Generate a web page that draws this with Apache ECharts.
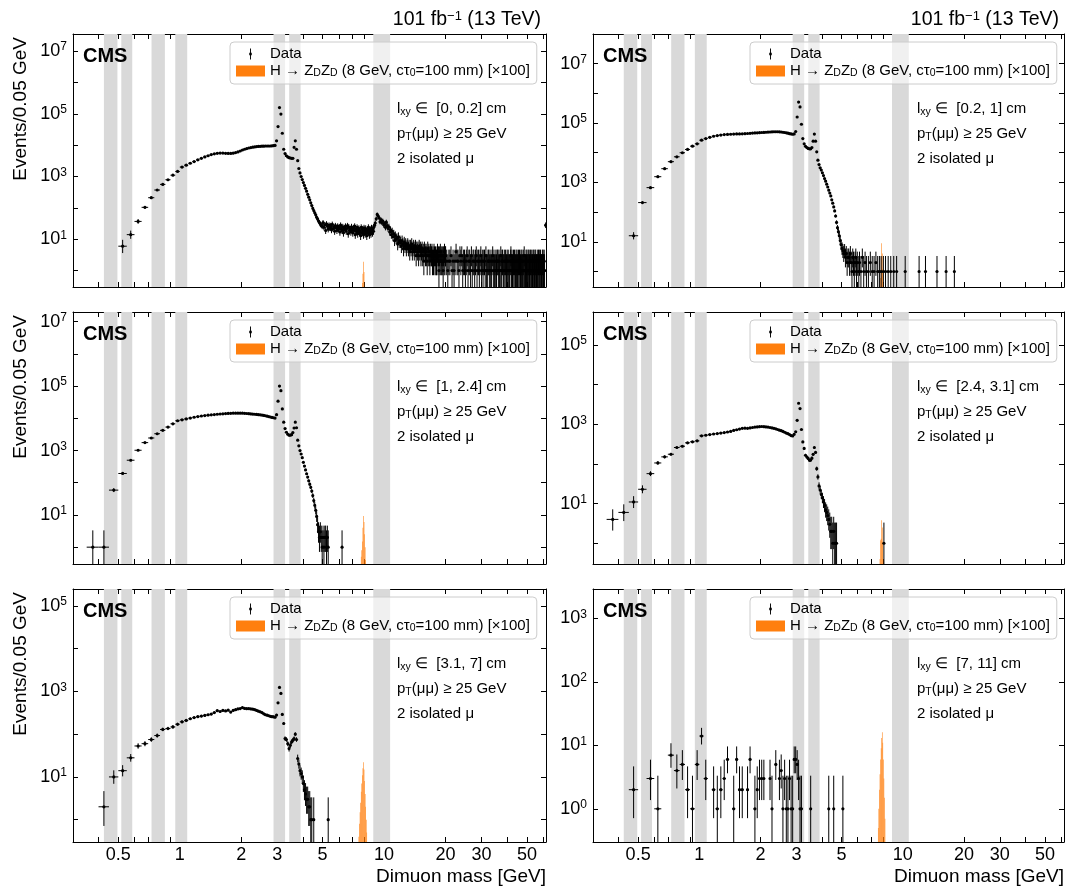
<!DOCTYPE html>
<html><head><meta charset="utf-8">
<script src="https://cdn.jsdelivr.net/npm/echarts@6.0.0/dist/echarts.min.js"></script>
<style>html,body{margin:0;padding:0;background:#fff}#c{width:1067px;height:888px}</style>
</head><body><div id="c"></div>
<script>
// ---------------- DATA ----------------
const massBins = [
0.375,0.425,0.475,0.525,0.575,0.625,0.675,0.725,0.775,0.825,
0.875,0.925,0.975,1.025,1.075,1.125,1.175,1.225,1.275,1.325,
1.375,1.425,1.475,1.525,1.575,1.625,1.675,1.725,1.775,1.825,
1.875,1.925,1.975,2.025,2.075,2.125,2.175,2.225,2.275,2.325,
2.375,2.425,2.475,2.525,2.575,2.625,2.675,2.725,2.775,2.825,
2.875,2.925,2.975,3.025,3.075,3.125,3.175,3.225,3.275,3.325,
3.375,3.425,3.475,3.525,3.575,3.625,3.675,3.725,3.775,3.825,
3.875,3.925,3.975,4.025,4.075,4.125,4.175,4.225,4.275,4.325,
4.375,4.425,4.475,4.525,4.575,4.625,4.675,4.725,4.775,4.825,
4.875,4.925,4.975];

const p1Events = [
null,null,null,6,14,37,104,211,371,561,
789,1100,1450,2000,2300,2650,3000,3400,3800,4200,
4600,5000,5300,5500,5600,5600,5500,5450,5450,5550,
5800,6100,6500,7000,7400,7800,8100,8400,8600,8800,
9000,9100,9200,9300,9300,9400,9400,9400,9400,9500,
9600,9800,13700,39000,158000,98000,24000,7400,5400,4600,
4200,4000,3900,3800,3800,8500,13700,7400,3200,1800,
1300,1000,800,640,520,420,340,270,220,180,
145,118,97,82,70,60,50,44,38,34,
30,28,26];
const p1TailMass = [
5.025,5.075,5.125,5.175,5.225,5.275,5.325,5.375,5.425,5.475,
5.525,5.575,5.625,5.675,5.725,5.775,5.825,5.875,5.925,5.975,
6.025,6.075,6.125,6.175,6.225,6.275,6.325,6.375,6.425,6.475,
6.525,6.575,6.625,6.675,6.725,6.775,6.825,6.875,6.925,6.975,
7.025,7.075,7.125,7.175,7.225,7.275,7.325,7.375,7.425,7.475,
7.525,7.575,7.625,7.675,7.725,7.775,7.825,7.875,7.925,7.975,
8.025,8.075,8.125,8.175,8.225,8.275,8.325,8.375,8.425,8.475,
8.525,8.575,8.625,8.675,8.725,8.775,8.825,8.875,8.925,8.975,
9.05,9.15,9.25,9.35,9.45,9.55,9.65,9.75,9.85,9.95,
10.05,10.15,10.25,10.35,10.45,10.55,10.65,10.75,10.85,10.95,
11.05,11.15,11.25,11.35,11.45,11.55,11.65,11.75,11.85,11.95,
12.05,12.15,12.25,12.35,12.45,12.55,12.65,12.75,12.85,12.95,
13.05,13.15,13.25,13.35,13.45,13.55,13.65,13.75,13.85,13.95,
14.05,14.15,14.25,14.35,14.45,14.55,14.65,14.75,14.85,14.95,
15.05,15.15,15.25,15.35,15.45,15.55,15.65,15.75,15.85,15.95,
16.05,16.15,16.25,16.35,16.45,16.55,16.65,16.75,16.85,16.95,
17.05,17.15,17.25,17.35,17.45,17.55,17.65,17.75,17.85,17.95,
18.05,18.15,18.25,18.35,18.45,18.55,18.65,18.75,18.85,18.95,
19.05,19.15,19.25,19.35,19.45,19.55,19.65,19.75,19.85,19.95,
20,20.25,20.5,20.75, 21,21.25,21.5,21.75, 22,22.25,22.5,22.75, 23,23.25,23.5,23.75,
24,24.25,24.5,24.75, 25,25.25,25.5,25.75, 26,26.25,26.5,26.75, 27,27.25,27.5,27.75,
28,28.25,28.5,28.75, 29,29.25,29.5,29.75, 30,30.25,30.5,30.75, 31,31.25,31.5,31.75,
32,32.25,32.5,32.75, 33,33.25,33.5,33.75, 34,34.25,34.5,34.75, 35,35.25,35.5,35.75,
36,36.25,36.5,36.75, 37,37.25,37.5,37.75, 38,38.25,38.5,38.75, 39,39.25,39.5,39.75,
40,40.25,40.5,40.75, 41,41.25,41.5,41.75, 42,42.25,42.5,42.75, 43,43.25,43.5,43.75,
44,44.25,44.5,44.75, 45,45.25,45.5,45.75, 46,46.25,46.5,46.75, 47,47.25,47.5,47.75,
48,48.25,48.5,48.75, 49,49.25,49.5,49.75, 50,50.25,50.5,50.75, 51,51.25,51.5,51.75,
52,52.25,52.5,52.75, 53,53.25,53.5,53.75, 54,54.25,54.5,54.75, 55,55.25,55.5,55.75,
56,56.25,56.5,56.75, 57,57.25,57.5,57.75, 58,58.25,58.5,58.75, 59,59.25,59.5,59.75,
60,60.25,60.5,60.75, 61,
61.75];
const p1TailCounts = [
34,24,29,19,31,26,21,28,23,27,
20,30,22,25,18,27,23,19,26,21,
24,17,28,21,19,25,16,23,20,26,
18,22,27,15,24,19,21,17,25,20,
16,23,19,26,14,21,18,24,15,20,
22,17,19,13,24,16,21,18,14,23,
19,15,22,17,13,20,16,24,18,14,
21,17,15,23,19,16,22,18,25,28,
33,45,62,55,48,36,42,34,38,29,
31,24,35,27,22,25,17,20,14,18,
12,15,9,13,10,11,7,12,8,9,
8,6,9,7,5,8,6,7,5,6,
7,5,6,4,6,5,7,4,5,6,
4,5,6,3,5,4,5,3,6,4,
5,3,4,5,3,4,2,5,4,3,
4,3,2,5,3,4,3,2,4,3,
3,4,2,3,2,4,3,2,3,2,
2,3,4,2,3,1,3,2,4,2,
3,2,2,3,1,3,2,4,2,3,
3,2,1,2, 2,3,1,2, 1,2,4,2, 2,1,3,2,
3,1,2,2, 1,2,3,1, 2,2,1,3, 1,2,2,1,
2,3,1,2, 2,1,2,3, 1,2,1,2, 2,1,3,1,
1,2,2,1, 2,1,1,2, 3,1,2,1, 1,2,1,2,
2,1,2,1, 1,3,1,2, 2,1,1,2, 1,2,1,1,
2,1,2,1, 1,1,2,3, 1,2,1,1, 2,1,2,1,
1,2,1,2, 1,1,2,1, 2,1,1,2, 1,2,1,1,
2,1,3,1, 1,1,2,1, 2,1,1,2, 1,2,1,1,
2,1,2,1, 1,1,2,1, 2,1,1,2, 1,2,1,1,
1,1,2,1, 2,1,1,2, 1,2,1,1, 1,1,2,1,
2,1,1,2, 1,
28];

const p2Events = [
null,null,16,209,668,1560,2900,5000,7300,10000,
12900,16700,20000,26500,30000,33000,36000,38000,39500,41000,
41500,42000,42500,43000,43000,43500,44000,44500,45000,46000,
46500,47000,47500,48000,48500,49000,49500,50000,50500,51000,
51000,51000,50500,50000,49000,48000,47000,45500,44000,43000,
42000,43000,52000,160000,510000,350000,91000,30000,20000,16500,
15000,14000,13500,13500,15000,24500,42500,24500,10700,5600,
4000,3100,2600,2100,1700,1350,1100,870,700,550,
440,350,260,200,150,110,74,45,30,22,
16,11,8];
const p2TailMass = [5.025,5.075,5.125,5.175,5.225,5.275,5.325,5.375,5.425,5.475,5.525,5.575,5.625,5.675,5.725,5.775,5.825,5.875,5.925,5.975,
6.075,6.125,6.225,6.325,6.425,6.525,6.625,6.775,6.925,7.075,7.225,7.375,7.525,7.675,7.825,8.025,8.225,8.475,8.725,9.025,9.325,
10.275,12.025,12.925,14.725,16.325,17.925];
const p2TailCounts = [6,5,4,5,3,4,2,3,3,2,4,2,1,3,2,1,2,3,1,2,
1,2,1,3,1,2,1,1,2,1,1,2,1,1,1,1,1,1,1,1,1,
1,1,1,1,1,1];

const p3Events = [
1,1,59,194,500,1020,1760,2450,3320,4230,
5350,6770,8400,9000,9600,10200,10800,11300,11800,12200,
12500,12800,13100,13400,13600,13800,14000,14200,14300,14400,
14500,14500,14500,14400,14300,14100,13900,13700,13500,13400,
13200,13000,12800,12600,12300,12000,11700,11300,11000,10700,
10400,10200,13000,34000,100000,72000,19600,7600,4800,3700,
3200,3000,3000,3100,3600,5000,7600,5100,2100,1400,
1000,780,600,430,330,250,190,150,115,90,
72,55,40,28,20,14,9,5,3,2,
3,2,1];
const p3TailMass = [5.025,5.075,5.125,5.175,5.225,5.275,5.325,6.225];
const p3TailCounts = [2,1,2,2,1,2,1,1];

const p4Events = [
4,6,11,23,57,106,151,176,260,280,
341,362,383,513,530,550,570,585,600,620,
640,660,700,730,760,790,800,790,810,830,
850,860,870,880,870,860,850,830,810,790,
770,740,710,690,660,630,600,580,550,520,
510,560,650,1260,3400,2500,740,360,246,166,
150,138,124,125,140,175,260,195,76,47,
28,22,17,14,11,9,7,6,5,4,
3,2,2,1,2,1,1,1,null,null,
null,null,null];
const p4TailMass = [8.075];
const p4TailCounts = [1];

const p5Events = [
null,2,10,14,28,53,60,75,93,129,
136,148,171,195,210,230,245,257,265,275,
285,296,320,355,340,360,350,365,330,360,
375,390,398,420,400,395,398,390,385,375,
360,345,333,320,300,285,278,270,262,257,
255,250,280,542,1240,900,290,178,79,75,
60,46,55,66,72,79,100,75,27,20,
14,12,10,7,5,4,3,3,2,2,
1,1,null,1,null,null,null,null,null,null,
null,null,null];
const p5TailMass = [5.325];
const p5TailCounts = [1];

const p6Events = [
null,null,2,null,3,1,null,7,4,5,
2,1,5,14,3,null,2,1,2,3,
6,null,1,6,2,2,null,2,6,null,
1,2,3,3,3,null,null,3,1,null,
5,null,3,4,1,3,1,1,3,1,
1,6,6,5,3,1,1,null,null,null,
null,null,null,1,null,null,null,null,null,null,
null,null,null,null,null,null,null,null,null,1,
null,null,null,null,1,null,null,null,null,null,
null,null,null];
const p6TailMass = [5.075];
const p6TailCounts = [1];

// signal (x100), 0.05 GeV bins
const sigMass = [7.525,7.575,7.625,7.675,7.725,7.775,7.825,7.875,7.925,7.975,8.025,8.075,8.125,8.175,8.225,8.275,8.325,8.375];
const p1Signal = [0,0,0,0,0,0.2,0.4,0.8,1.9,0.9,0.3,0,0,0,0,0,0,0];
const p2Signal = [0,0,0,0,0.2,0.6,3,9,4,1.2,0.4,0,0,0,0,0,0,0];
const p3Signal = [0,0,0,0,0.5,0.8,1.5,4,9.3,6,2.5,1,0.4,0,0,0,0,0];
const p4Signal = [0,0,0,0,0.4,1.2,1.3,3.8,2.5,1.1,0.4,0,0,0,0,0,0,0];
const p5Signal = [0.4,0.8,1.5,2.5,4.5,7,11,16,22,15,8,4,2,1,0.5,0,0,0];
const p6Signal = [0,0.5,1,2,3.5,6,9,13,16,11,6,3,1.5,0.7,0.3,0,0,0];

// masked mass windows (GeV)
const maskWindows = [[0.425,0.495],[0.517,0.585],[0.727,0.845],[0.95,1.087],[2.875,3.275],[3.43,3.9],[8.85,10.7]];

// axes ticks / labels
const xTickMasses = [0.4,0.5,0.6,0.7,0.8,0.9,1,2,3,4,5,6,7,8,9,10,20,30,40,50,60];
const xLabelMasses = [0.5,1,2,3,5,10,20,30,50];
const yTickExps = [[0,1,2,3,4,5,6,7],[0,1,2,3,4,5,6,7,8],[0,1,2,3,4,5,6,7],[0,1,2,3,4,5],[0,1,2,3,4,5],[0,1,2,3]];
const yLabelExps = [[1,3,5,7],[1,3,5,7],[1,3,5,7],[1,3,5],[1,3,5],[0,1,2,3]];
const lxyRanges = ['[0, 0.2]','[0.2, 1]','[1, 2.4]','[2.4, 3.1]','[3.1, 7]','[7, 11]'];

// ---------------- LAYOUT ----------------
const FONT = '"Liberation Sans", Arial, Helvetica, sans-serif';
const lg = Math.log10;
const binWidth = 0.05;
const xMin = 0.3, xMax = 62, yMin = 0.3;
const yMaxes = [3.5e7, 1e8, 2e7, 6.8e5, 2.5e5, 2.9e3];
const grids = [
  {left:73, top:34, width:473, height:253},
  {left:593, top:34, width:471, height:253},
  {left:73, top:312, width:473, height:252},
  {left:593, top:312, width:471, height:252},
  {left:73, top:589, width:473, height:253},
  {left:593, top:589, width:471, height:253}
];
const panels = [
  {ev:p1Events, tm:p1TailMass, tc:p1TailCounts, sig:p1Signal},
  {ev:p2Events, tm:p2TailMass, tc:p2TailCounts, sig:p2Signal},
  {ev:p3Events, tm:p3TailMass, tc:p3TailCounts, sig:p3Signal},
  {ev:p4Events, tm:p4TailMass, tc:p4TailCounts, sig:p4Signal},
  {ev:p5Events, tm:p5TailMass, tc:p5TailCounts, sig:p5Signal},
  {ev:p6Events, tm:p6TailMass, tc:p6TailCounts, sig:p6Signal}
];
const ORANGE = '#ff7f0e';
const SIGNAME = 'signal';

function gehrels(n) {
  const hi = n + 1 + Math.sqrt(n + 0.75);
  const lo = n * Math.pow(1 - 1 / (9 * n) - 1 / (3 * Math.sqrt(n)), 3);
  return [lo, hi];
}

const xAxes = [], yAxes = [], series = [], graphics = [], legends = [];
const axisLine = {show:true, onZero:false, lineStyle:{color:'#000', width:1}};

grids.forEach((g, i) => {
  xAxes.push({type:'log', logBase:10, gridIndex:i, min:xMin, max:xMax, show:false});
  yAxes.push({type:'log', logBase:10, gridIndex:i, min:yMin, max:yMaxes[i], show:false});
});
grids.forEach((g, i) => {
  const bottomRow = i >= 4;
  ['bottom','top'].forEach(pos => xAxes.push({
    type:'value', gridIndex:i, position:pos, min:lg(xMin), max:lg(xMax),
    axisLine:axisLine, splitLine:{show:false},
    axisTick:{show:true, inside:true, length:5, customValues:xTickMasses.map(lg), lineStyle:{color:'#000', width:1}},
    axisLabel:{show: pos === 'bottom' && bottomRow, customValues:xLabelMasses.map(lg),
      formatter: v => String(Number(Math.pow(10, v).toPrecision(2))),
      color:'#000', fontFamily:FONT, fontSize:18, lineHeight:18, margin:4}
  }));
  ['left','right'].forEach(pos => yAxes.push({
    type:'value', gridIndex:i, position:pos, min:lg(yMin), max:lg(yMaxes[i]),
    axisLine:axisLine, splitLine:{show:false},
    axisTick:{show:true, inside:true, length:5, customValues:yTickExps[i], lineStyle:{color:'#000', width:1}},
    axisLabel:{show: pos === 'left', customValues:yLabelExps[i],
      formatter: v => '10{sup|' + Math.round(v) + '}',
      color:'#000', fontFamily:FONT, fontSize:18, lineHeight:20, margin:6,
      rich:{sup:{fontFamily:FONT, fontSize:12, lineHeight:10, verticalAlign:'top', color:'#000'}}}
  }));
});

panels.forEach((p, i) => {
  const ymax = yMaxes[i];
  series.push({
    type:'custom', name:'mask', xAxisIndex:i, yAxisIndex:i, z:1, silent:true, clip:true,
    data: maskWindows.map(w => [w[0], w[1], 1]), encode:{x:[0,1], y:2},
    renderItem: (params, api) => {
      const a = api.coord([api.value(0), ymax]), b = api.coord([api.value(1), yMin]);
      return {type:'rect', shape:{x:a[0], y:a[1], width:b[0]-a[0], height:b[1]-a[1]}, style:{fill:'#d9d9d9'}};
    }
  });
  const sdata = [];
  sigMass.forEach((m, k) => { if (p.sig[k] > yMin) sdata.push([m, p.sig[k]]); });
  series.push({
    type:'custom', name:SIGNAME, xAxisIndex:i, yAxisIndex:i, z:2, silent:true, clip:true,
    itemStyle:{color:ORANGE}, data:sdata, encode:{x:0, y:1},
    renderItem: (params, api) => {
      const m = api.value(0), v = api.value(1);
      const a = api.coord([m - binWidth / 2, v]), b = api.coord([m + binWidth / 2, yMin]);
      return {type:'rect', shape:{x:a[0], y:a[1], width:b[0]-a[0], height:b[1]-a[1]}, style:{fill:ORANGE}};
    }
  });
  const ddata = [];
  massBins.forEach((m, k) => { if (p.ev[k] != null) ddata.push([m, p.ev[k]]); });
  p.tm.forEach((m, k) => ddata.push([m, p.tc[k]]));
  series.push({
    type:'custom', name:'Data', xAxisIndex:i, yAxisIndex:i, z:3, silent:true, clip:true,
    itemStyle:{color:'#000'}, data:ddata, encode:{x:0, y:1},
    renderItem: (params, api) => {
      const m = api.value(0), n = api.value(1);
      const e = gehrels(n);
      const c = api.coord([m, n]);
      const l = api.coord([Math.max(m - binWidth / 2, xMin), n])[0];
      const r = api.coord([Math.min(m + binWidth / 2, xMax), n])[0];
      const t = api.coord([m, Math.min(e[1], ymax)])[1];
      const b = api.coord([m, Math.max(e[0], yMin)])[1];
      return {type:'group', children:[
        {type:'line', shape:{x1:l, y1:c[1], x2:r, y2:c[1]}, style:{stroke:'#000', lineWidth:1}},
        {type:'line', shape:{x1:c[0], y1:t, x2:c[0], y2:b}, style:{stroke:'#000', lineWidth:1}},
        {type:'circle', shape:{cx:c[0], cy:c[1], r:1.6}, style:{fill:'#000'}}
      ]};
    }
  });
});

const richSmall = {
  t:{fontFamily:FONT, fontSize:15, lineHeight:18, color:'#000'},
  s:{fontFamily:FONT, fontSize:10.5, lineHeight:8, verticalAlign:'bottom', color:'#000'}
};
grids.forEach((g, i) => {
  legends.push({
    left:g.left + 157, top:g.top + 8, orient:'vertical', align:'left',
    itemWidth:29, itemHeight:11, itemGap:1, padding:[4,7,5,6],
    backgroundColor:'rgba(255,255,255,0.6)', borderColor:'#cccccc', borderWidth:1, borderRadius:4,
    selectedMode:false, symbolKeepAspect:true,
    textStyle:{fontFamily:FONT, fontSize:15, lineHeight:16, color:'#000',
      rich:{t:{fontFamily:FONT, fontSize:15, lineHeight:16, color:'#000'},
            s:{fontFamily:FONT, fontSize:10.5, lineHeight:6, verticalAlign:'bottom', color:'#000'}}},
    formatter: name => name === 'Data' ? 'Data'
      : '{t|H → Z}{s|D}{t|Z}{s|D}{t| (8 GeV, cτ}{s|0}{t|=100 mm) [×100]}',
    data:[
      {name:'Data', icon:'path://M1.4,0H2.6V14H1.4Z M0.4,5.4H3.6V8.6H0.4Z', itemStyle:{color:'#000'}},
      {name:SIGNAME, icon:'rect', itemStyle:{color:ORANGE}}
    ]
  });
  graphics.push({type:'text', x:g.left + 10, y:g.top + 22, z:20,
    style:{text:'CMS', fontFamily:FONT, fontSize:20, fontWeight:'bold', fill:'#000', verticalAlign:'middle', textVerticalAlign:'middle'}});
  const ann = [
    '{t|l}{s|xy}{t| ∈  ' + lxyRanges[i] + ' cm}',
    '{t|p}{s|T}{t|(μμ) ≥ 25 GeV}',
    '{t|2 isolated μ}'
  ];
  ann.forEach((txt, k) => graphics.push({type:'text', x:g.left + 324, y:g.top + 75 + 25 * k, z:20,
    style:{text:txt, rich:richSmall, fontFamily:FONT, fontSize:15, fill:'#000', verticalAlign:'middle', textVerticalAlign:'middle'}}));
  if (i < 2) graphics.push({type:'text', x:g.left + g.width - 5, y:20, z:20,
    style:{text:'101 fb{sup|−1} (13 TeV)', fontFamily:FONT, fontSize:19.5, fill:'#000',
      align:'right', textAlign:'right', verticalAlign:'middle', textVerticalAlign:'middle',
      rich:{sup:{fontFamily:FONT, fontSize:13, lineHeight:10, verticalAlign:'top', fill:'#000', color:'#000'}}}});
  if (i % 2 === 0) graphics.push({type:'text', x:21, y:g.top + 3, rotation:Math.PI / 2, z:20,
    style:{text:'Events/0.05 GeV', fontFamily:FONT, fontSize:19, fill:'#000',
      align:'right', textAlign:'right', verticalAlign:'middle', textVerticalAlign:'middle'}});
  if (i >= 4) graphics.push({type:'text', x:g.left + g.width, y:877, z:20,
    style:{text:'Dimuon mass [GeV]', fontFamily:FONT, fontSize:19, fill:'#000',
      align:'right', textAlign:'right', verticalAlign:'middle', textVerticalAlign:'middle'}});
});

const chart = echarts.init(document.getElementById('c'), null, {renderer:'canvas'});
chart.setOption({
  animation:false,
  backgroundColor:'#fff',
  textStyle:{fontFamily:FONT},
  grid: grids.map(g => ({left:g.left, top:g.top, width:g.width, height:g.height, show:false})),
  xAxis: xAxes,
  yAxis: yAxes,
  legend: legends,
  series: series,
  graphic: graphics
});
</script>
</body></html>
